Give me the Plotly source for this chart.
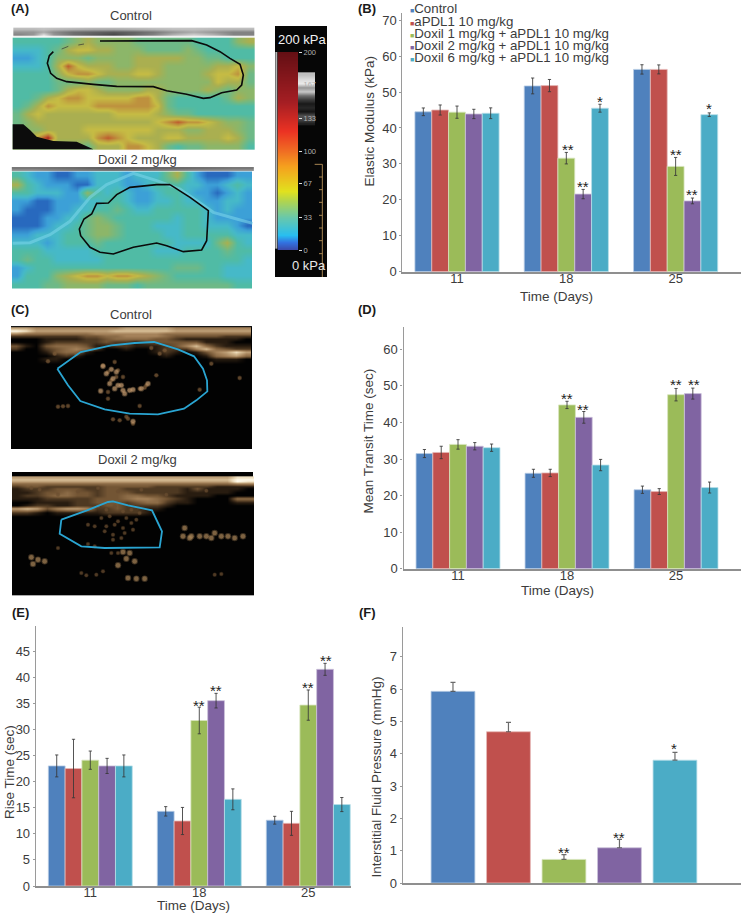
import plotly.graph_objects as go

W, H = 741, 916
FONT = "Liberation Sans, Arial, sans-serif"
TXT = "#3c3c3c"

groups = ["Control", "aPDL1 10 mg/kg", "Doxil 1 mg/kg + aPDL1 10 mg/kg",
          "Doxil 2 mg/kg + aPDL1 10 mg/kg", "Doxil 6 mg/kg + aPDL1 10 mg/kg"]
colors = ["#4F81BD", "#C0504D", "#9BBB59", "#8064A2", "#4BACC6"]
edges = ["#B9CDE5", "#E6B9B8", "#D7E4BD", "#CCC1DA", "#B7DEE8"]
days = ["11", "18", "25"]

# (B) elastic modulus
b_vals = [[44.5, 51.7, 56.3], [45.0, 51.8, 56.3], [44.4, 31.6, 29.3], [43.9, 21.6, 19.7], [44.1, 45.5, 43.7]]
b_errs = [[1.07, 2.2, 1.3], [1.4, 1.7, 1.25], [1.7, 1.6, 2.5], [1.3, 1.3, 0.8], [1.5, 1.1, 0.5]]
# (D) mean transit time
d_vals = [[31.5, 26.1, 21.6], [31.8, 26.2, 21.1], [34.0, 44.8, 47.6], [33.5, 41.4, 47.9], [33.1, 28.35, 22.2]]
d_errs = [[1.1, 1.1, 1.0], [1.7, 1.0, 0.8], [1.3, 1.0, 1.7], [1.0, 1.6, 1.5], [1.0, 1.55, 1.5]]
# (E) rise time
e_vals = [[23.0, 14.3, 12.6], [22.5, 12.45, 12.0], [24.1, 31.7, 34.65], [23.0, 35.5, 41.5], [23.0, 16.6, 15.6]]
e_errs = [[2.1, 0.9, 0.75], [5.6, 2.6, 2.3], [1.75, 2.55, 2.9], [1.45, 1.4, 1.15], [2.1, 2.0, 1.35]]
# (F) interstitial fluid pressure
f_vals = [5.93, 4.68, 0.73, 1.09, 3.80]
f_errs = [0.28, 0.29, 0.15, 0.26, 0.24]

# (A) elastography maps, colour level 0-10
a1_x = [23, 53, 83, 113, 143, 173, 203, 233, 263, 293, 323, 353, 383, 413, 443, 473, 503, 533, 563, 593, 623, 653, 683, 717]
a1_y = [50, 74, 98, 122, 146, 170, 194, 218, 242, 266, 290, 314, 338, 362]
a1_z = [
    [3, 3, 3, 3, 3, 4, 5, 6, 5, 5, 5, 5, 4, 4, 4, 4, 4, 4, 3, 3, 3, 3, 5, 6],
    [2, 2, 2, 3, 4, 6, 7, 7, 6, 6, 5, 5, 5, 4, 4, 4, 4, 5, 4, 3, 3, 3, 3, 3],
    [1, 1, 2, 3, 5, 5, 5, 4, 5, 5, 5, 5, 6, 6, 6, 6, 6, 5, 5, 4, 4, 3, 3, 3],
    [2, 2, 2, 3, 6, 9, 7, 6, 6, 6, 5, 5, 6, 6, 6, 5, 5, 5, 5, 5, 6, 6, 7, 5],
    [3, 3, 3, 3, 5, 7, 8, 8, 7, 6, 6, 6, 7, 7, 6, 5, 5, 5, 5, 6, 7, 7, 8, 4],
    [3, 3, 3, 3, 4, 4, 4, 5, 4, 4, 5, 5, 5, 5, 5, 5, 5, 5, 5, 5, 7, 6, 6, 4],
    [3, 3, 3, 3, 4, 6, 7, 7, 6, 5, 5, 5, 5, 6, 6, 5, 5, 5, 5, 6, 5, 4, 5, 5],
    [3, 3, 4, 6, 7, 8, 8, 7, 7, 7, 7, 7, 8, 8, 6, 4, 3, 3, 3, 3, 3, 4, 6, 5],
    [3, 4, 6, 8, 7, 7, 7, 7, 8, 8, 8, 8, 8, 8, 7, 4, 3, 3, 3, 3, 3, 3, 3, 3],
    [4, 6, 7, 6, 6, 6, 6, 6, 6, 6, 7, 7, 7, 7, 6, 5, 4, 4, 3, 3, 3, 3, 3, 3],
    [4, 5, 6, 6, 6, 6, 6, 6, 6, 6, 6, 6, 6, 6, 7, 8, 9, 8, 8, 7, 6, 5, 5, 4],
    [4, 5, 5, 6, 6, 6, 6, 7, 7, 7, 7, 7, 7, 7, 6, 6, 6, 5, 5, 6, 6, 6, 5, 4],
    [5, 5, 8, 10, 6, 6, 6, 6, 8, 9, 8, 7, 6, 6, 6, 7, 7, 6, 6, 6, 6, 7, 6, 4],
    [5, 5, 5, 5, 5, 5, 5, 4, 6, 6, 6, 8, 8, 7, 6, 4, 3, 4, 4, 5, 5, 5, 5, 3],
]
a2_x = [21, 51, 81, 111, 141, 171, 201, 231, 261, 291, 321, 351, 381, 411, 441, 471, 501, 531, 561, 591, 621, 651, 681, 711]
a2_y = [35, 60, 85, 110, 135, 160, 185, 210, 235, 260, 285, 310, 335, 360]
a2_z = [
    [3, 2, 1, 1, 0, 0, 1, 1, 2, 2, 2, 1, 2, 2, 2, 4, 6, 3, 1, 0, 0, 0, 1, 1],
    [6, 3, 2, 1, 1, 1, 0, 0, 2, 2, 2, 1, 1, 2, 3, 3, 3, 2, 2, 1, 1, 2, 3, 2],
    [3, 3, 2, 2, 2, 1, 1, 5, 3, 2, 3, 2, 1, 1, 2, 3, 3, 2, 1, 1, 0, 1, 2, 1],
    [1, 1, 0, 0, 1, 1, 1, 2, 2, 3, 3, 2, 1, 1, 2, 2, 3, 2, 2, 1, 1, 2, 2, 1],
    [1, 0, 0, 0, 1, 1, 2, 2, 3, 3, 4, 3, 2, 2, 3, 3, 3, 3, 3, 2, 1, 2, 1, 1],
    [0, 0, 0, 1, 1, 2, 2, 4, 5, 4, 3, 3, 3, 3, 3, 3, 2, 3, 3, 2, 1, 1, 1, 1],
    [0, 0, 0, 1, 2, 2, 3, 4, 5, 5, 4, 3, 3, 3, 2, 2, 2, 3, 3, 2, 2, 2, 1, 0],
    [1, 1, 2, 2, 2, 3, 3, 4, 5, 5, 4, 3, 3, 3, 3, 2, 2, 3, 3, 3, 3, 3, 2, 2],
    [2, 2, 2, 1, 2, 3, 3, 3, 4, 3, 3, 3, 3, 3, 3, 3, 2, 2, 2, 2, 4, 6, 3, 2],
    [3, 3, 3, 2, 2, 2, 2, 2, 3, 3, 3, 3, 3, 3, 2, 2, 2, 3, 3, 3, 3, 4, 3, 3],
    [3, 4, 3, 3, 2, 2, 2, 2, 2, 3, 3, 3, 3, 3, 3, 3, 3, 3, 3, 3, 3, 3, 3, 2],
    [1, 2, 3, 3, 3, 3, 3, 3, 3, 3, 3, 3, 3, 3, 3, 3, 4, 4, 4, 3, 3, 2, 2, 2],
    [1, 3, 3, 3, 5, 6, 7, 8, 8, 7, 8, 8, 7, 6, 5, 4, 3, 3, 3, 3, 3, 2, 2, 2],
    [3, 3, 3, 4, 4, 5, 5, 5, 5, 4, 4, 4, 3, 4, 4, 4, 4, 4, 4, 4, 4, 4, 3, 3],
]
a_scale = [[0.0, "rgb(40,105,190)"], [0.1, "rgb(60,160,215)"], [0.2, "rgb(70,185,200)"], [0.3, "rgb(80,187,165)"],
           [0.4, "rgb(110,185,135)"], [0.5, "rgb(140,182,105)"], [0.6, "rgb(170,175,80)"], [0.7, "rgb(198,188,68)"],
           [0.8, "rgb(190,145,62)"], [0.9, "rgb(190,90,45)"], [1.0, "rgb(170,30,30)"]]

a1_band_x = [30, 70, 100, 130, 190, 250, 310, 370, 430, 490, 550, 610, 670, 711]
a1_band_y = [12, 20, 28, 33]
a1_band_z = [
    [190, 190, 195, 190, 185, 180, 180, 185, 190, 195, 195, 190, 190, 190],
    [150, 150, 170, 140, 110, 100, 90, 100, 120, 150, 170, 150, 130, 130],
    [130, 150, 225, 150, 110, 90, 70, 100, 130, 180, 210, 180, 130, 130],
    [235, 235, 245, 235, 235, 235, 235, 235, 235, 235, 235, 235, 235, 235],
]
a2_band_x = [66, 187, 308, 429, 550, 671]
a2_band_y = [12, 18]
a2_band_z = [[120, 110, 90, 100, 110, 120], [150, 130, 120, 130, 145, 150]]

a1_outline_x = [130, 118, 112, 122, 140, 170, 250, 320, 430, 470, 530, 580, 600, 635, 680, 695, 700, 690, 660, 630, 590, 545, 270]
a1_outline_y = [80, 92, 115, 145, 160, 170, 178, 184, 185, 197, 208, 220, 218, 203, 195, 180, 150, 118, 100, 80, 60, 47, 48]
a1_dash_x = [155, 175, None, 205, 222]
a1_dash_y = [72, 64, None, 60, 57]
a1_black_x = [8, 40, 60, 80, 130, 200, 250, 8]
a1_black_y = [298, 298, 315, 335, 348, 350, 373, 373]
a2_outline_x = [480, 440, 360, 320, 295, 260, 245, 222, 208, 212, 240, 270, 310, 370, 440, 470, 520, 575, 590, 595, 540, 480]
a2_outline_y = [62, 62, 70, 92, 117, 118, 150, 165, 195, 215, 250, 265, 270, 250, 237, 245, 263, 258, 230, 140, 100, 62]
a2_streak_x = [8, 60, 120, 180, 240, 290, 370, 440, 510, 560, 610, 680, 728]
a2_streak_y = [238, 236, 212, 172, 100, 62, 28, 50, 75, 110, 145, 165, 178]

# colour bar
bar_kpa = [0, 4, 8, 15, 22, 33, 50, 60, 70, 85, 100, 120, 150, 200]
bar_scale = [[0 / 200, "rgb(60,70,165)"], [8 / 200, "rgb(50,115,225)"], [15 / 200, "rgb(40,190,240)"],
             [33 / 200, "rgb(105,200,170)"], [50 / 200, "rgb(175,212,80)"], [60 / 200, "rgb(225,225,30)"],
             [85 / 200, "rgb(245,160,30)"], [100 / 200, "rgb(240,110,35)"], [120 / 200, "rgb(235,50,35)"],
             [150 / 200, "rgb(165,30,35)"], [1, "rgb(100,15,20)"]]
bar_ticks = [0, 33, 67, 100, 133, 167, 200]
bar_back_x = [60, 138]
bar_back_y = [200.25, 576.75]
patch_x = [102.5, 127.5]
patch_y = [158, 172, 184, 196, 208, 220, 232, 244, 256, 268, 280, 292, 304]
patch_z = [[190, 190], [220, 220], [235, 235], [150, 150], [200, 200], [110, 110], [60, 60], [25, 25], [40, 40], [20, 20], [80, 80], [70, 70], [30, 30]]
ruler_x = [140, 163, 163, None, 153, 163, None, 153, 163, None, 153, 163, None, 153, 163, None, 153, 163, None, 153, 163, None, 153, 163]
ruler_y = [427, 427, 765, None, 465, 465, None, 503, 503, None, 541, 541, None, 580, 580, None, 618, 618, None, 656, 656, None, 695, 695]

# (C) contrast ultrasound: echo brightness 0-9, outlines and echo spots
c1_back_x = [189.75, 551.25]
c2_back_x = [192.75, 554.25]
c_back_y = [104, 288]
c1_x = [24, 54, 84, 114, 144, 174, 204, 234, 264, 294, 324, 354, 384, 414, 444, 474, 504, 534, 564, 594, 624, 654, 684, 714]
c1_y = [18, 26, 34, 42, 50, 60, 70, 80, 90, 100, 110, 125, 295]
c1_z = [
    [6, 6, 5, 5, 5, 5, 5, 5, 5, 5, 5, 6, 6, 6, 6, 6, 5, 5, 5, 5, 5, 5, 5, 5],
    [9, 8, 6, 6, 6, 6, 6, 6, 6, 6, 7, 7, 7, 7, 7, 7, 6, 6, 6, 6, 6, 6, 6, 6],
    [5, 4, 4, 4, 4, 4, 4, 4, 5, 5, 5, 5, 5, 5, 5, 4, 4, 4, 4, 4, 4, 4, 4, 4],
    [2, 2, 2, 2, 2, 2, 2, 3, 3, 4, 4, 5, 5, 5, 5, 4, 3, 3, 3, 3, 3, 2, 2, 2],
    [0, 0, 0, 1, 1, 1, 1, 2, 2, 3, 4, 4, 4, 4, 3, 3, 2, 1, 1, 1, 1, 1, 1, 0],
    [0, 0, 0, 1, 2, 2, 2, 2, 2, 3, 2, 2, 1, 2, 3, 3, 3, 3, 3, 1, 1, 1, 0, 0],
    [3, 1, 0, 3, 4, 4, 4, 3, 1, 1, 2, 2, 1, 1, 1, 2, 3, 5, 7, 4, 2, 1, 1, 1],
    [2, 0, 0, 2, 3, 4, 5, 4, 2, 0, 0, 1, 0, 0, 1, 2, 2, 2, 5, 7, 4, 3, 2, 2],
    [0, 0, 0, 1, 3, 4, 4, 1, 0, 0, 0, 0, 0, 0, 1, 2, 1, 0, 1, 3, 5, 6, 8, 6],
    [0, 0, 0, 0, 1, 2, 1, 0, 0, 0, 0, 0, 0, 0, 0, 1, 0, 0, 0, 1, 4, 5, 6, 4],
    [0, 0, 0, 1, 1, 0, 0, 0, 0, 0, 0, 0, 0, 0, 0, 0, 0, 0, 0, 0, 1, 1, 1, 0],
    [0, 0, 0, 0, 0, 0, 0, 0, 0, 0, 0, 0, 0, 0, 0, 0, 0, 0, 0, 0, 0, 0, 0, 0],
    [0, 0, 0, 0, 0, 0, 0, 0, 0, 0, 0, 0, 0, 0, 0, 0, 0, 0, 0, 0, 0, 0, 0, 0],
]
c2_x = [27, 57, 87, 117, 147, 177, 207, 237, 267, 297, 327, 357, 387, 417, 447, 477, 507, 537, 567, 597, 627, 657, 687, 720]
c2_y = [28, 34, 40, 46, 54, 62, 72, 82, 92, 102, 112, 122, 132, 145, 302]
c2_z = [
    [6, 6, 6, 6, 6, 6, 6, 6, 6, 6, 6, 6, 6, 6, 6, 6, 6, 6, 6, 6, 6, 6, 8, 8],
    [7, 7, 7, 7, 7, 7, 7, 7, 7, 7, 7, 7, 7, 7, 7, 7, 7, 7, 7, 7, 7, 7, 9, 9],
    [6, 6, 6, 6, 6, 6, 6, 6, 6, 6, 6, 6, 6, 6, 6, 6, 6, 6, 6, 6, 6, 6, 9, 8],
    [4, 4, 4, 4, 4, 4, 4, 4, 4, 4, 4, 4, 4, 4, 4, 4, 4, 4, 4, 4, 4, 4, 5, 5],
    [2, 3, 3, 2, 2, 2, 2, 2, 2, 3, 3, 3, 3, 3, 2, 2, 2, 2, 2, 2, 1, 1, 1, 1],
    [1, 2, 2, 2, 3, 3, 3, 2, 2, 3, 3, 2, 2, 2, 2, 2, 2, 1, 3, 1, 1, 1, 1, 0],
    [1, 1, 2, 3, 3, 4, 3, 3, 2, 3, 3, 3, 2, 2, 2, 2, 2, 1, 1, 1, 1, 1, 0, 0],
    [1, 2, 2, 3, 4, 4, 3, 3, 2, 3, 3, 4, 4, 3, 3, 2, 1, 1, 1, 1, 0, 0, 0, 0],
    [1, 1, 1, 2, 2, 2, 2, 2, 3, 3, 3, 4, 5, 5, 4, 3, 2, 1, 0, 0, 0, 0, 4, 4],
    [0, 0, 1, 1, 1, 1, 2, 2, 3, 3, 3, 2, 3, 4, 4, 2, 1, 1, 0, 0, 0, 0, 1, 1],
    [0, 1, 2, 2, 1, 1, 2, 2, 2, 3, 3, 2, 2, 2, 2, 1, 0, 0, 0, 0, 0, 0, 0, 0],
    [6, 7, 6, 3, 5, 6, 6, 5, 2, 2, 3, 2, 2, 1, 1, 0, 0, 0, 0, 0, 0, 0, 0, 0],
    [2, 2, 1, 0, 1, 1, 1, 1, 1, 2, 2, 2, 2, 1, 0, 0, 0, 0, 0, 0, 0, 0, 0, 0],
    [0, 0, 0, 0, 0, 0, 0, 0, 0, 0, 0, 0, 0, 0, 0, 0, 0, 0, 0, 0, 0, 0, 0, 0],
    [0, 0, 0, 0, 0, 0, 0, 0, 0, 0, 0, 0, 0, 0, 0, 0, 0, 0, 0, 0, 0, 0, 0, 0],
]
echo_scale = [[0, "rgb(2,2,2)"], [1 / 9, "rgb(40,28,16)"], [3 / 9, "rgb(115,85,52)"], [5 / 9, "rgb(165,130,90)"],
              [7 / 9, "rgb(215,190,150)"], [8 / 9, "rgb(240,225,195)"], [1, "rgb(255,250,235)"]]
c1_outline_x = [148, 218, 310, 380, 438, 510, 558, 585, 597, 598, 565, 528, 450, 365, 290, 217, 180, 148]
c1_outline_y = [140, 90, 70, 63, 60, 82, 103, 140, 175, 208, 235, 260, 277, 275, 262, 237, 190, 140]
c1_dim_x = [150, 165, 180, 315, 335, 360, 375, 355, 395, 285, 320, 300, 330, 310, 325, 345, 300, 300, 415, 445, 575, 695, 395, 410, 120, 610, 455, 140, 205, 430, 470]
c1_dim_y = [254, 253, 252, 292, 295, 290, 305, 284, 252, 130, 120, 150, 145, 175, 165, 165, 230, 210, 190, 160, 203, 168, 200, 197, 118, 125, 95, 95, 95, 78, 85]
c1_bright_x = [285, 310, 325, 295, 315, 305, 330, 320, 345, 365, 375, 350, 278, 420, 400, 340, 375]
c1_bright_y = [133, 142, 150, 155, 170, 185, 190, 200, 205, 205, 203, 215, 207, 185, 200, 190, 298]
c2_outline_x = [160, 235, 300, 315, 360, 432, 450, 462, 455, 340, 290, 220, 155, 160]
c2_outline_y = [155, 128, 102, 100, 112, 127, 165, 190, 238, 238, 240, 235, 197, 155]
c2_dim_x = [270, 295, 320, 345, 370, 395, 280, 305, 330, 355, 385, 295, 320, 345, 370, 240, 260, 290, 315, 350, 375, 315, 340, 240, 220, 235, 265, 285, 260, 150, 620, 640, 330, 310, 70, 95, 150, 210, 270, 330, 400, 475, 595]
c2_dim_y = [115, 125, 115, 130, 125, 135, 150, 145, 160, 150, 155, 175, 170, 180, 165, 170, 175, 190, 200, 195, 185, 215, 210, 228, 315, 322, 320, 310, 235, 240, 320, 318, 255, 255, 60, 65, 80, 70, 60, 70, 65, 80, 68]
c2_bright_x = [525, 545, 530, 550, 575, 595, 620, 640, 660, 680, 705, 610, 70, 90, 110, 75, 345, 365, 355, 380, 330, 360, 385, 410]
c2_bright_y = [205, 210, 180, 205, 205, 205, 195, 205, 205, 210, 205, 210, 268, 275, 280, 288, 252, 255, 272, 280, 292, 330, 332, 332]

# significance marks
star_text = ["**", "**", "*", "**", "**", "*", "**", "**", "**", "**", "**", "**", "**", "**", "**", "**", "*"]
star_x = [568, 583, 600.3, 676, 692, 709, 567.3, 583.3, 676, 694, 198.7, 215.7, 308, 326, 564, 619.3, 674]
star_y = [147, 184.3, 99, 152, 192.7, 106.7, 396.7, 407, 382.7, 382, 703.7, 688, 685, 658.3, 850, 835.3, 746.3]

fig = go.Figure()
layout = {}
counter = [0]


def add_axes(left, right, top, bottom, xopts, yopts):
    counter[0] += 1
    n = counter[0]
    xn, yn = ("xaxis", "yaxis") if n == 1 else (f"xaxis{n}", f"yaxis{n}")
    xref, yref = ("x", "y") if n == 1 else (f"x{n}", f"y{n}")
    layout[xn] = dict(domain=[left / W, right / W], anchor=yref, fixedrange=True, automargin=False, **xopts)
    layout[yn] = dict(domain=[1 - bottom / H, 1 - top / H], anchor=xref, fixedrange=True, automargin=False, **yopts)
    return xref, yref


def blank(lo, hi):
    return dict(range=[lo, hi], visible=False, showgrid=False, zeroline=False)


def image_axes(ox, oy, w_px, h_px):
    return add_axes(ox, ox + w_px, oy, oy + h_px, blank(0, w_px * 3), blank(h_px * 3, 0))


def poly(xr, yr, x, y, color, width):
    fig.add_trace(go.Scatter(x=x, y=y, xaxis=xr, yaxis=yr, mode="lines", showlegend=False, hoverinfo="skip",
                             line=dict(color=color, width=width)))


def spots(xr, yr, x, y, color, size):
    for s, op in ((size * 1.4, 0.35), (size, 0.6)):
        fig.add_trace(go.Scatter(x=x, y=y, xaxis=xr, yaxis=yr, mode="markers", showlegend=False, hoverinfo="skip",
                                 marker=dict(color=color, size=s, line=dict(width=0), opacity=op)))


def heat(xr, yr, x, y, z, lo, hi, scale):
    fig.add_trace(go.Heatmap(x=x, y=y, z=z, xaxis=xr, yaxis=yr, zsmooth="best", showscale=False, hoverinfo="skip",
                             zmin=lo, zmax=hi, colorscale=scale))


GREYS = [[0, "black"], [1, "white"]]

# ---------- panel A ----------
xr, yr = image_axes(10, 25, 248, 128)
heat(xr, yr, a1_band_x, a1_band_y, a1_band_z, 0, 255, GREYS)
heat(xr, yr, a1_x, a1_y, a1_z, 0, 10, a_scale)
fig.add_trace(go.Scatter(x=a1_black_x, y=a1_black_y, xaxis=xr, yaxis=yr, mode="lines", fill="toself", fillcolor="#0c0c0c",
                         line=dict(color="#0c0c0c", width=0), showlegend=False, hoverinfo="skip"))
poly(xr, yr, a1_outline_x, a1_outline_y, "#0a0a0a", 1.6)
poly(xr, yr, a1_dash_x, a1_dash_y, "#333333", 0.7)

xr, yr = image_axes(10, 164, 248, 128)
heat(xr, yr, a2_band_x, a2_band_y, a2_band_z, 0, 255, GREYS)
heat(xr, yr, a2_x, a2_y, a2_z, 0, 10, a_scale)
poly(xr, yr, a2_streak_x, a2_streak_y, "rgba(125,215,235,0.55)", 3)
poly(xr, yr, a2_outline_x, a2_outline_y, "#0a0a0a", 1.6)

# ---------- colour bar ----------
xr, yr = image_axes(268, 22, 66, 260)
heat(xr, yr, bar_back_x, bar_back_y, [[6, 6], [6, 6]], 0, 255, GREYS)
heat(xr, yr, patch_x, patch_y, patch_z, 0, 255, GREYS)
poly(xr, yr, ruler_x, ruler_y, "#b8935a", 0.9)
poly(xr, yr, [25, 25], [90, 680], "#b5b5b5", 2)
xr, yr = add_axes(277.5, 298, 52, 250,
                  dict(range=[0, 1], visible=False, showgrid=False, zeroline=False),
                  dict(range=[0, 200], side="right", tickvals=bar_ticks, ticks="outside", ticklen=3, tickcolor="#dddddd",
                       tickfont=dict(family=FONT, size=7.5, color="#b0b0b0"), showgrid=False, zeroline=False, showline=False))
fig.add_trace(go.Heatmap(x=[0, 1], y=bar_kpa, z=[[v, v] for v in bar_kpa], xaxis=xr, yaxis=yr, zsmooth="best",
                         showscale=False, hoverinfo="skip", zmin=0, zmax=200, colorscale=bar_scale))

# ---------- panel C ----------
xr, yr = image_axes(8, 322, 248, 130)
heat(xr, yr, c1_back_x, c_back_y, [[0, 0], [0, 0]], 0, 9, echo_scale)
heat(xr, yr, c1_x, c1_y, c1_z, 0, 9, echo_scale)
poly(xr, yr, [9, 732], [14, 14], "#151515", 1.2)
spots(xr, yr, c1_dim_x, c1_dim_y, "#7d5c38", 3.5)
spots(xr, yr, c1_bright_x, c1_bright_y, "#c39a6e", 4.2)
poly(xr, yr, c1_outline_x, c1_outline_y, "#2AA5D2", 1.8)

xr, yr = image_axes(8, 468, 248, 130)
heat(xr, yr, c2_back_x, c_back_y, [[0, 0], [0, 0]], 0, 9, echo_scale)
heat(xr, yr, c2_x, c2_y, c2_z, 0, 9, echo_scale)
spots(xr, yr, c2_dim_x, c2_dim_y, "#6b4e30", 3.2)
spots(xr, yr, c2_bright_x, c2_bright_y, "#a98559", 4.6)
poly(xr, yr, c2_outline_x, c2_outline_y, "#2AA5D2", 1.8)


# ---------- bar panels ----------
def value_axes(left, right, top, bottom, xlo, xhi, ylo, yhi, yticks, cats=None):
    return add_axes(left, right, top, bottom,
                    dict(type="category", categoryorder="array", categoryarray=cats or days, range=[xlo, xhi], showline=True,
                         linecolor="#8f8f8f", linewidth=1.6, ticks="", showgrid=False, zeroline=False,
                         showticklabels=cats is None, ticklabelstandoff=-6,
                         tickfont=dict(family=FONT, size=13, color=TXT)),
                    dict(range=[ylo, yhi], tickvals=yticks, showline=True, linecolor="#9a9a9a", linewidth=1.2,
                         ticks="outside", ticklen=2, tickcolor="#9a9a9a", showgrid=False, zeroline=False,
                         tickfont=dict(family=FONT, size=13, color=TXT)))


def grouped(xr, yr, vals, errs):
    for i, g in enumerate(groups):
        fig.add_trace(go.Bar(x=days, y=vals[i], xaxis=xr, yaxis=yr, name=g, showlegend=False, offsetgroup=str(i),
                             marker=dict(color=colors[i], line=dict(color=edges[i], width=0.8)),
                             error_y=dict(type="data", array=errs[i], color="rgba(55,55,55,0.85)", thickness=1, width=1.6)))


xr, yr = value_axes(402.35, 741, 13, 271.7, -0.5, 2.598, 0, 72, [0, 10, 20, 30, 40, 50, 60, 70])
grouped(xr, yr, b_vals, b_errs)
xr, yr = value_axes(403.5, 741, 326.7, 568.7, -0.5, 2.596, 0, 66.2, [0, 10, 20, 30, 40, 50, 60])
grouped(xr, yr, d_vals, d_errs)
xr, yr = value_axes(35.8, 351, 626, 886, -0.5, 2.392, 0, 49.8, [0, 5, 10, 15, 20, 25, 30, 35, 40, 45])
grouped(xr, yr, e_vals, e_errs)

xr, yr = value_axes(402.7, 741, 626.7, 883, -0.906, 5.19, 0, 7.93, [0, 1, 2, 3, 4, 5, 6, 7], cats=groups)
fig.add_trace(go.Bar(x=groups, y=f_vals, xaxis=xr, yaxis=yr, showlegend=False, width=0.79,
                     marker=dict(color=colors, line=dict(color=edges, width=0.8)),
                     error_y=dict(type="data", array=f_errs, arrayminus=[0, 0, 0, 0, 0], symmetric=False,
                                  color="rgba(70,70,70,0.8)", thickness=1.2, width=2.5)))

# ---------- text ----------
notes = []


def note(text, x, y, size=13, color=TXT, angle=0, anchor="center", bold=False):
    notes.append(dict(text=f"<b>{text}</b>" if bold else text, x=x / W, y=1 - y / H, xref="paper", yref="paper",
                      xanchor=anchor, yanchor="middle", showarrow=False, textangle=angle,
                      font=dict(family=FONT, size=size, color=color)))


for t, x, y in [("(A)", 20, 9), ("(B)", 367, 9), ("(C)", 20, 310), ("(D)", 367, 310), ("(E)", 20, 612), ("(F)", 367, 612)]:
    note(t, x, y, size=13, color="#1a1a1a", bold=True)

note("Control", 130.5, 15.5, 13)
note("Doxil 2 mg/kg", 137.5, 160, 13)
note("Control", 130.5, 314.5, 13)
note("Doxil 2 mg/kg", 137.5, 460, 13)
note("200 kPa", 301.5, 39, 13, color="#f2f2f2")
note("0 kPa", 309, 265, 13, color="#e8e8e8")

for i, (g, y) in enumerate(zip(groups, [9, 21, 33.5, 45.7, 58])):
    note(f'<span style="color:{colors[i]};font-size:7px">■</span>{g}', 408, y, 13.3, anchor="left")

note("Elastic Modulus (kPa)", 368.5, 121, 13.5, angle=-90)
note("Time (Days)", 556.5, 296, 13.5)
note("Mean Transit Time (sec)", 367.5, 441, 13.5, angle=-90)
note("Time (Days)", 557, 590.5, 13.5)
note("Rise Time (sec)", 9, 772, 13.5, angle=-90)
note("Time (Days)", 193, 905.5, 13.5)
note("Interstitial Fluid Pressure (mmHg)", 375.5, 777, 13.5, angle=-90)

for s, x, y in zip(star_text, star_x, star_y):
    note(s, x, y + 2, 15, color="#222222")

fig.update_layout(width=W, height=H, margin=dict(l=0, r=0, t=0, b=0, autoexpand=False), paper_bgcolor="white", plot_bgcolor="rgba(0,0,0,0)",
                  barmode="group", bargap=0.23, bargroupgap=0, showlegend=False, annotations=notes,
                  font=dict(family=FONT, color=TXT), **layout)
fig.write_html("out.html", post_script="document.body.style.margin='0';", config={"displayModeBar": False})
